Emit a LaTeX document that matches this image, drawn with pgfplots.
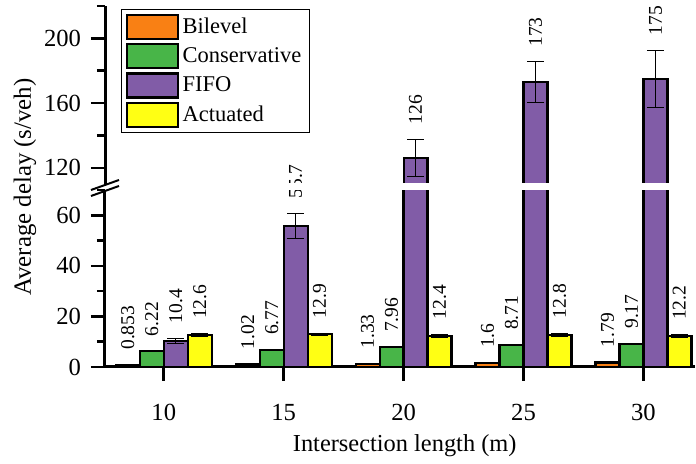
\documentclass[border=0pt]{standalone}
\usepackage{fontspec}
\setmainfont{Liberation Serif}
\usepackage{pgfplots}
\pgfplotsset{compat=1.18}
\usepackage{pgfplotstable}

\definecolor{cBil}{RGB}{249,128,20}
\definecolor{cCon}{RGB}{72,181,72}
\definecolor{cFifo}{RGB}{129,92,167}
\definecolor{cAct}{RGB}{255,255,20}

% x = category index (10,15,20,25,30 -> 0..4) plus the bar's place in its group
\pgfplotstableread{
x y err lab
-0.3 0.853 0 0.853
0.7 1.02 0 1.02
1.7 1.33 0 1.33
2.7 1.6 0 1.6
3.7 1.79 0 1.79
}\bilevel
\pgfplotstableread{
x y err lab
-0.1 6.22 0 6.22
0.9 6.77 0 6.77
1.9 7.96 0 7.96
2.9 8.71 0 8.71
3.9 9.17 0 9.17
}\conservative
\pgfplotstableread{
x y err lab
0.1 10.4 1.0 10.4
1.1 55.7 5.0 55.7
2.1 126 11.5 {}
3.1 173 12.5 {}
4.1 175 17.5 {}
}\fifolow
\pgfplotstableread{
x y err lab
2.1 126 11.5 126
3.1 173 12.5 173
4.1 175 17.5 175
}\fifohigh
\pgfplotstableread{
x y err lab
0.3 12.6 0.5 12.6
1.3 12.9 0.5 12.9
2.3 12.4 0.5 12.4
3.3 12.8 0.6 12.8
4.3 12.2 0.5 12.2
}\actuated

\pgfplotsset{
  mybar/.style={ybar, bar width=0.2, bar shift=0, draw=black, line width=1.1pt, fill=#1,
    legend image code/.code={\draw[##1, line width=1.1pt] (0pt,-6pt) rectangle (25.5pt,6pt);}},
  myerr/.style={error bars/.cd, y dir=both, y explicit,
    error mark=-,
    error bar style={black, line width=0.6pt},
    error mark options={rotate=90, black, line width=0.6pt, mark size=4.25pt}},
  mylab/.style={nodes near coords, point meta=explicit symbolic,
    visualization depends on={\thisrow{err} \as \myerr},
    every node near coord/.append style={shift={(axis direction cs:0,\myerr)},
      rotate=90, anchor=west, inner xsep=7pt, inner ysep=0pt, text=black,
      font=\fontsize{9.75}{11}\selectfont}},
  common/.style={scale only axis, width=295pt,
    xmin=-0.49, xmax=4.43,
    tick align=outside,
    major tick length=7pt, minor tick length=4pt,
    every tick/.style={black, line width=1.3pt},
    axis line style={-, black, line width=1.5pt},
    /pgf/number format/assume math mode=true,
    tick label style={font=\fontsize{12.3}{14}\selectfont},
    yticklabel style={xshift=-1.5pt},
  },
}

\begin{document}
\begin{tikzpicture}
\begin{axis}[common, name=lower, height=88.5pt,
  ymin=0, ymax=70,
  axis x line*=bottom, axis y line*=left,
  xtick={0,1,2,3,4}, xticklabels={10,15,20,25,30},
  xticklabel style={yshift=-8pt},
  ytick={0,20,40,60}, minor ytick={10,30,50,70},
  xlabel={Intersection length (m)},
  ylabel={Average delay (s/veh)},
  every axis x label/.style={at={(axis description cs:0.508,-0.48)}, anchor=base,
    font=\fontsize{12.2}{14}\selectfont},
  every axis y label/.style={at={(axis description cs:-0.1356,1.017)}, rotate=90, anchor=center,
    font=\fontsize{12.4}{14}\selectfont},
]
\addplot[mybar=cBil, mylab] table[x=x, y=y, meta=lab] {\bilevel};
\addplot[mybar=cCon, mylab] table[x=x, y=y, meta=lab] {\conservative};
\addplot[mybar=cFifo, mylab, myerr] table[x=x, y=y, y error=err, meta=lab] {\fifolow};
\addplot[mybar=cAct, mylab, myerr] table[x=x, y=y, y error=err, meta=lab] {\actuated};
\end{axis}
\begin{axis}[common, name=upper, height=89pt, at={(0,91.5pt)}, anchor=south west,
  ymin=110, ymax=220,
  axis x line=none, axis y line*=left,
  xtick=\empty,
  ytick={120,160,200}, minor ytick={140,180,220},
  legend style={at={(0.027,0.983)}, anchor=north west, draw=black, line width=0.6pt,
    font=\fontsize{11.25}{13}\selectfont, inner xsep=2pt, inner ysep=2pt,
    row sep=1.5pt, cells={anchor=west}},
]
\addlegendimage{mybar=cBil}
\addlegendentry{Bilevel}
\addlegendimage{mybar=cCon}
\addlegendentry{Conservative}
\addplot[mybar=cFifo, mylab, myerr] table[x=x, y=y, y error=err, meta=lab] {\fifohigh};
\addlegendentry{FIFO}
\addlegendimage{mybar=cAct}
\addlegendentry{Actuated}
\end{axis}
\fill[white] ([xshift=0.8pt,yshift=0.7pt]upper.south west) rectangle (lower.north east);
\draw[black, line width=1pt] ([xshift=-7pt,yshift=-3pt]upper.south west) -- ([xshift=7pt,yshift=2pt]upper.south west);
\draw[black, line width=1pt] ([xshift=-7pt,yshift=-3pt]lower.north west) -- ([xshift=7pt,yshift=2pt]lower.north west);
\pgfresetboundingbox
\path[use as bounding box] (-52.5pt,-48.5pt) rectangle (295.5pt,183.5pt);
\end{tikzpicture}
\end{document}
